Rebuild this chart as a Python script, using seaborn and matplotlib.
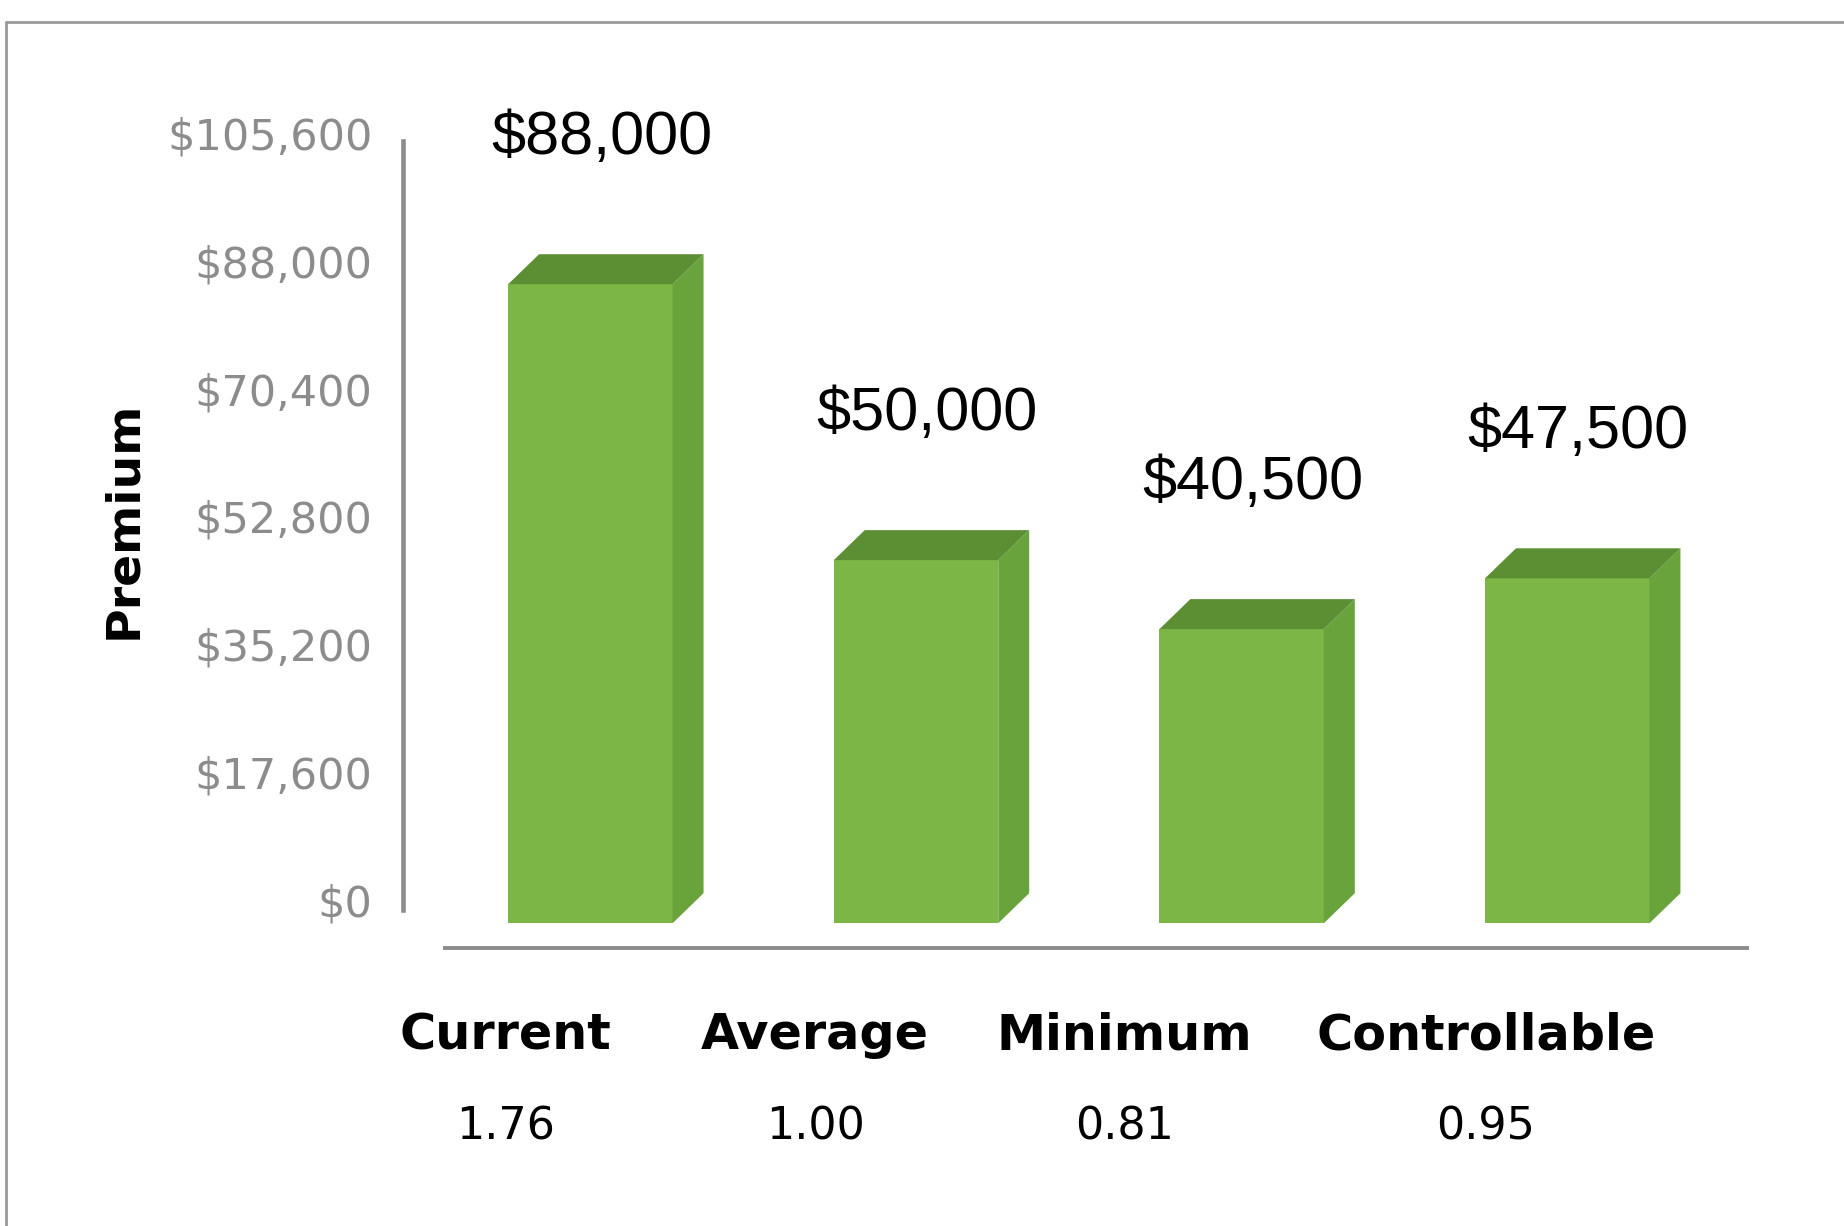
import numpy as np
import pandas as pd
import seaborn as sns
import matplotlib.pyplot as plt
from matplotlib.patches import Polygon
from matplotlib.lines import Line2D

# data
categories = ["Current", "Average", "Minimum", "Controllable"]
premiums = [88000, 50000, 40500, 47500]
ratios = ["1.76", "1.00", "0.81", "0.95"]
tick_values = [0, 17600, 35200, 52800, 70400, 88000, 105600]

df = pd.DataFrame({"Category": categories, "Premium": premiums})

sns.set_style("white")
plt.rcParams['font.family'] = ['DejaVu Sans']

front = "#7bb646"
side = "#69a33c"
top = "#5c8e34"
axis_grey = "#8c8c8c"

W, H = 1844, 1226
fig = plt.figure(figsize=(W / 100, H / 100), dpi=100)

# back wall axis (the value scale sits a bit higher than the bar floor, 3D look)
ax_wall = fig.add_axes([403 / W, 1 - 899.7 / H, 1346 / W, 766.8 / H])
ax_wall.set_facecolor("none")
ax_wall.set_ylim(0, 105600)
ax_wall.set_xticks([])
ax_wall.set_yticks(tick_values)
ax_wall.set_yticklabels(["${:,}".format(v) for v in tick_values])
ax_wall.tick_params(axis="y", length=0, pad=22, labelsize=31, labelcolor=axis_grey)
for s in ["top", "right", "bottom"]:
    ax_wall.spines[s].set_visible(False)
ax_wall.spines["left"].set_color(axis_grey)
ax_wall.spines["left"].set_linewidth(3.3)
ax_wall.spines["left"].set_bounds(-1400, 104500)

# main axes with the bars
ax = fig.add_axes([403 / W, 1 - 923.2 / H, 1346 / W, 766.8 / H])
ax.set_facecolor("none")
sns.barplot(data=df, x="Category", y="Premium", ax=ax, color=front,
            saturation=1, width=0.505, linewidth=0)
ax.set_xlim(-0.5755, 3.558)
ax.set_ylim(0, 105600)
ax.set_xticks([])
ax.set_yticks([])
ax.set_xlabel("")
ax.set_ylabel("")
for s in ax.spines.values():
    s.set_visible(False)

# depth of the 3D boxes
dx = 0.095
dy = 4130
for p in ax.patches:
    x0 = p.get_x()
    w = p.get_width()
    h = p.get_height()
    x1 = x0 + w
    ax.add_patch(Polygon([(x1, 0), (x1 + dx, dy), (x1 + dx, h + dy), (x1, h)],
                         closed=True, facecolor=side, edgecolor="none",
                         clip_on=False))
    ax.add_patch(Polygon([(x0, h), (x0 + dx, h + dy), (x1 + dx, h + dy), (x1, h)],
                         closed=True, facecolor=top, edgecolor="none",
                         clip_on=False))

# value labels above the bars
for i, v in enumerate(premiums):
    ax.annotate("${:,}".format(v), xy=(i, v), xytext=(11, 146),
                textcoords="offset pixels", ha="center", va="center",
                fontsize=44, family="Liberation Sans", color="black")

# floor line
ax.plot([0.03, 1.0], [-0.032, -0.032], transform=ax.transAxes,
        color=axis_grey, lw=2.8, clip_on=False, solid_capstyle="butt")

# category names and ratios under the floor
label_shift = [-0.26, -0.31, -0.36, -0.25]
trans = ax.get_xaxis_transform()
for i, (cat, r) in enumerate(zip(categories, ratios)):
    ax.text(i + label_shift[i], -0.146, cat, transform=trans, ha="center",
            va="center", fontsize=35.5, fontweight="bold", color="black")
    ax.text(i + label_shift[i], -0.266, r, transform=trans, ha="center",
            va="center", fontsize=32, color="black")

fig.text(123.5 / W, 1 - 520 / H, "Premium", rotation=90, ha="center",
         va="center", fontsize=34, fontweight="bold", color="black")

# chart area border (top and left visible)
fig.add_artist(Line2D([6 / W, 1], [1 - 22 / H, 1 - 22 / H], color="#999999", lw=2))
fig.add_artist(Line2D([6 / W, 6 / W], [0, 1 - 22 / H], color="#999999", lw=2))

fig.savefig("out.png", dpi=100, facecolor="white")
